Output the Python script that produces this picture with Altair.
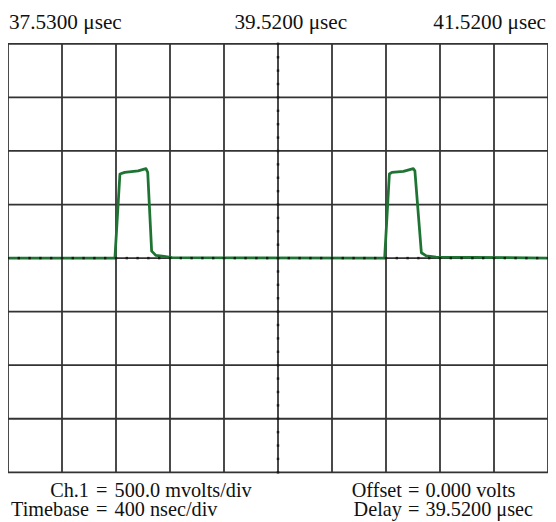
import altair as alt
import pandas as pd

# ---- trace samples (time in µs, Ch.1 in volts) ----
trace_time = [37.52, 38.312, 38.349, 38.384, 38.484, 38.542, 38.555, 38.584, 38.616, 38.676, 38.736,
              40.310, 40.345, 40.364, 40.449, 40.522, 40.534, 40.582, 40.618, 40.691, 41.52]
trace_volts = [0.0, 0.0, 0.785, 0.800, 0.815, 0.835, 0.800, 0.065, 0.025, 0.015, 0.005,
               0.0, 0.785, 0.800, 0.810, 0.835, 0.815, 0.050, 0.020, 0.010, 0.0]

# ---- graticule: 10 time divisions (400 ns/div), 8 voltage divisions (500 mV/div) ----
time_divisions = [37.52, 37.92, 38.32, 38.72, 39.12, 39.52, 39.92, 40.32, 40.72, 41.12, 41.52]
volt_divisions = [-2.0, -1.5, -1.0, -0.5, 0.0, 0.5, 1.0, 1.5, 2.0]
time_minor = [37.52 + 0.08 * k for k in range(51)]      # 5 per division on centre line
volt_minor = [-2.0 + 0.125 * k for k in range(33)]      # 4 per division on centre line

# ---- screen texts ----
top_times = [37.52, 39.52, 41.52]
top_labels = ["37.5300 μsec", "39.5200 μsec", "41.5200 μsec"]
left_names = ["Ch.1", "Timebase"]
left_values = ["500.0 mvolts/div", "400 nsec/div"]
right_names = ["Offset", "Delay"]
right_values = ["0.000 volts", "39.5200 μsec"]

FONT = "Liberation Serif"
FS_TOP = 21.5
FS_FOOT = 20.5
W, H = 547, 434
xs = alt.Scale(domain=[37.52, 41.52], nice=False, zero=False)
ys = alt.Scale(domain=[-2, 2], nice=False, zero=False)

trace_df = pd.DataFrame({"t": trace_time, "v": trace_volts, "i": range(len(trace_time))})
vgrid_df = pd.DataFrame({"t": time_divisions})
hgrid_df = pd.DataFrame({"v": volt_divisions})
tminor_df = pd.DataFrame({"t": time_minor, "v": [0.0] * len(time_minor)})
vminor_df = pd.DataFrame({"t": [39.52] * len(volt_minor), "v": volt_minor})
top_df = pd.DataFrame({"t": top_times, "label": top_labels})

GRID = "#333333"

vgrid = alt.Chart(vgrid_df).mark_rule(color=GRID, strokeWidth=1.8).encode(
    x=alt.X("t:Q", scale=xs, axis=None))
hgrid = alt.Chart(hgrid_df).mark_rule(color=GRID, strokeWidth=1.8).encode(
    y=alt.Y("v:Q", scale=ys, axis=None))

trace = alt.Chart(trace_df).mark_line(color="#1f7433", strokeWidth=2.8, strokeJoin="round").encode(
    x=alt.X("t:Q", scale=xs, axis=None),
    y=alt.Y("v:Q", scale=ys, axis=None),
    order="i:Q")

tminor = alt.Chart(tminor_df).mark_square(size=6, color="#1a1a1a", opacity=1).encode(
    x=alt.X("t:Q", scale=xs, axis=None), y=alt.Y("v:Q", scale=ys, axis=None))
vminor = alt.Chart(vminor_df).mark_square(size=6, color="#1a1a1a", opacity=1).encode(
    x=alt.X("t:Q", scale=xs, axis=None), y=alt.Y("v:Q", scale=ys, axis=None))

def top_text(idx, align, dx):
    return alt.Chart(top_df.iloc[[idx]]).mark_text(
        font=FONT, fontSize=FS_TOP, color="#111111", align=align, baseline="alphabetic", dx=dx
    ).encode(x=alt.X("t:Q", scale=xs, axis=None), y=alt.value(-15), text="label:N")

def footer(text, x, row, align):
    df = pd.DataFrame({"txt": [text]})
    return alt.Chart(df).mark_text(
        font=FONT, fontSize=FS_FOOT, color="#111111", align=align, baseline="alphabetic"
    ).encode(x=alt.value(x), y=alt.value(459 + 19 * row), text="txt:N")

layers = [vgrid, hgrid, trace, tminor, vminor,
          top_text(0, "left", 1), top_text(1, "center", 13), top_text(2, "right", -2)]
for row in range(2):
    layers += [
        footer(left_names[row], 82, row, "right"),
        footer("=", 95, row, "center"),
        footer(left_values[row], 108, row, "left"),
        footer(right_names[row], 399, row, "right"),
        footer("=", 411, row, "center"),
        footer(right_values[row], 423, row, "left"),
    ]

chart = alt.layer(*layers).properties(
    width=W, height=H,
    padding={"left": 0, "top": 33, "right": 0, "bottom": 47},
    autosize=alt.AutoSizeParams(type="none"),
    background="white",
).configure_view(stroke=None)

chart.save("out.html", embed_options={"renderer": "svg", "actions": False})
